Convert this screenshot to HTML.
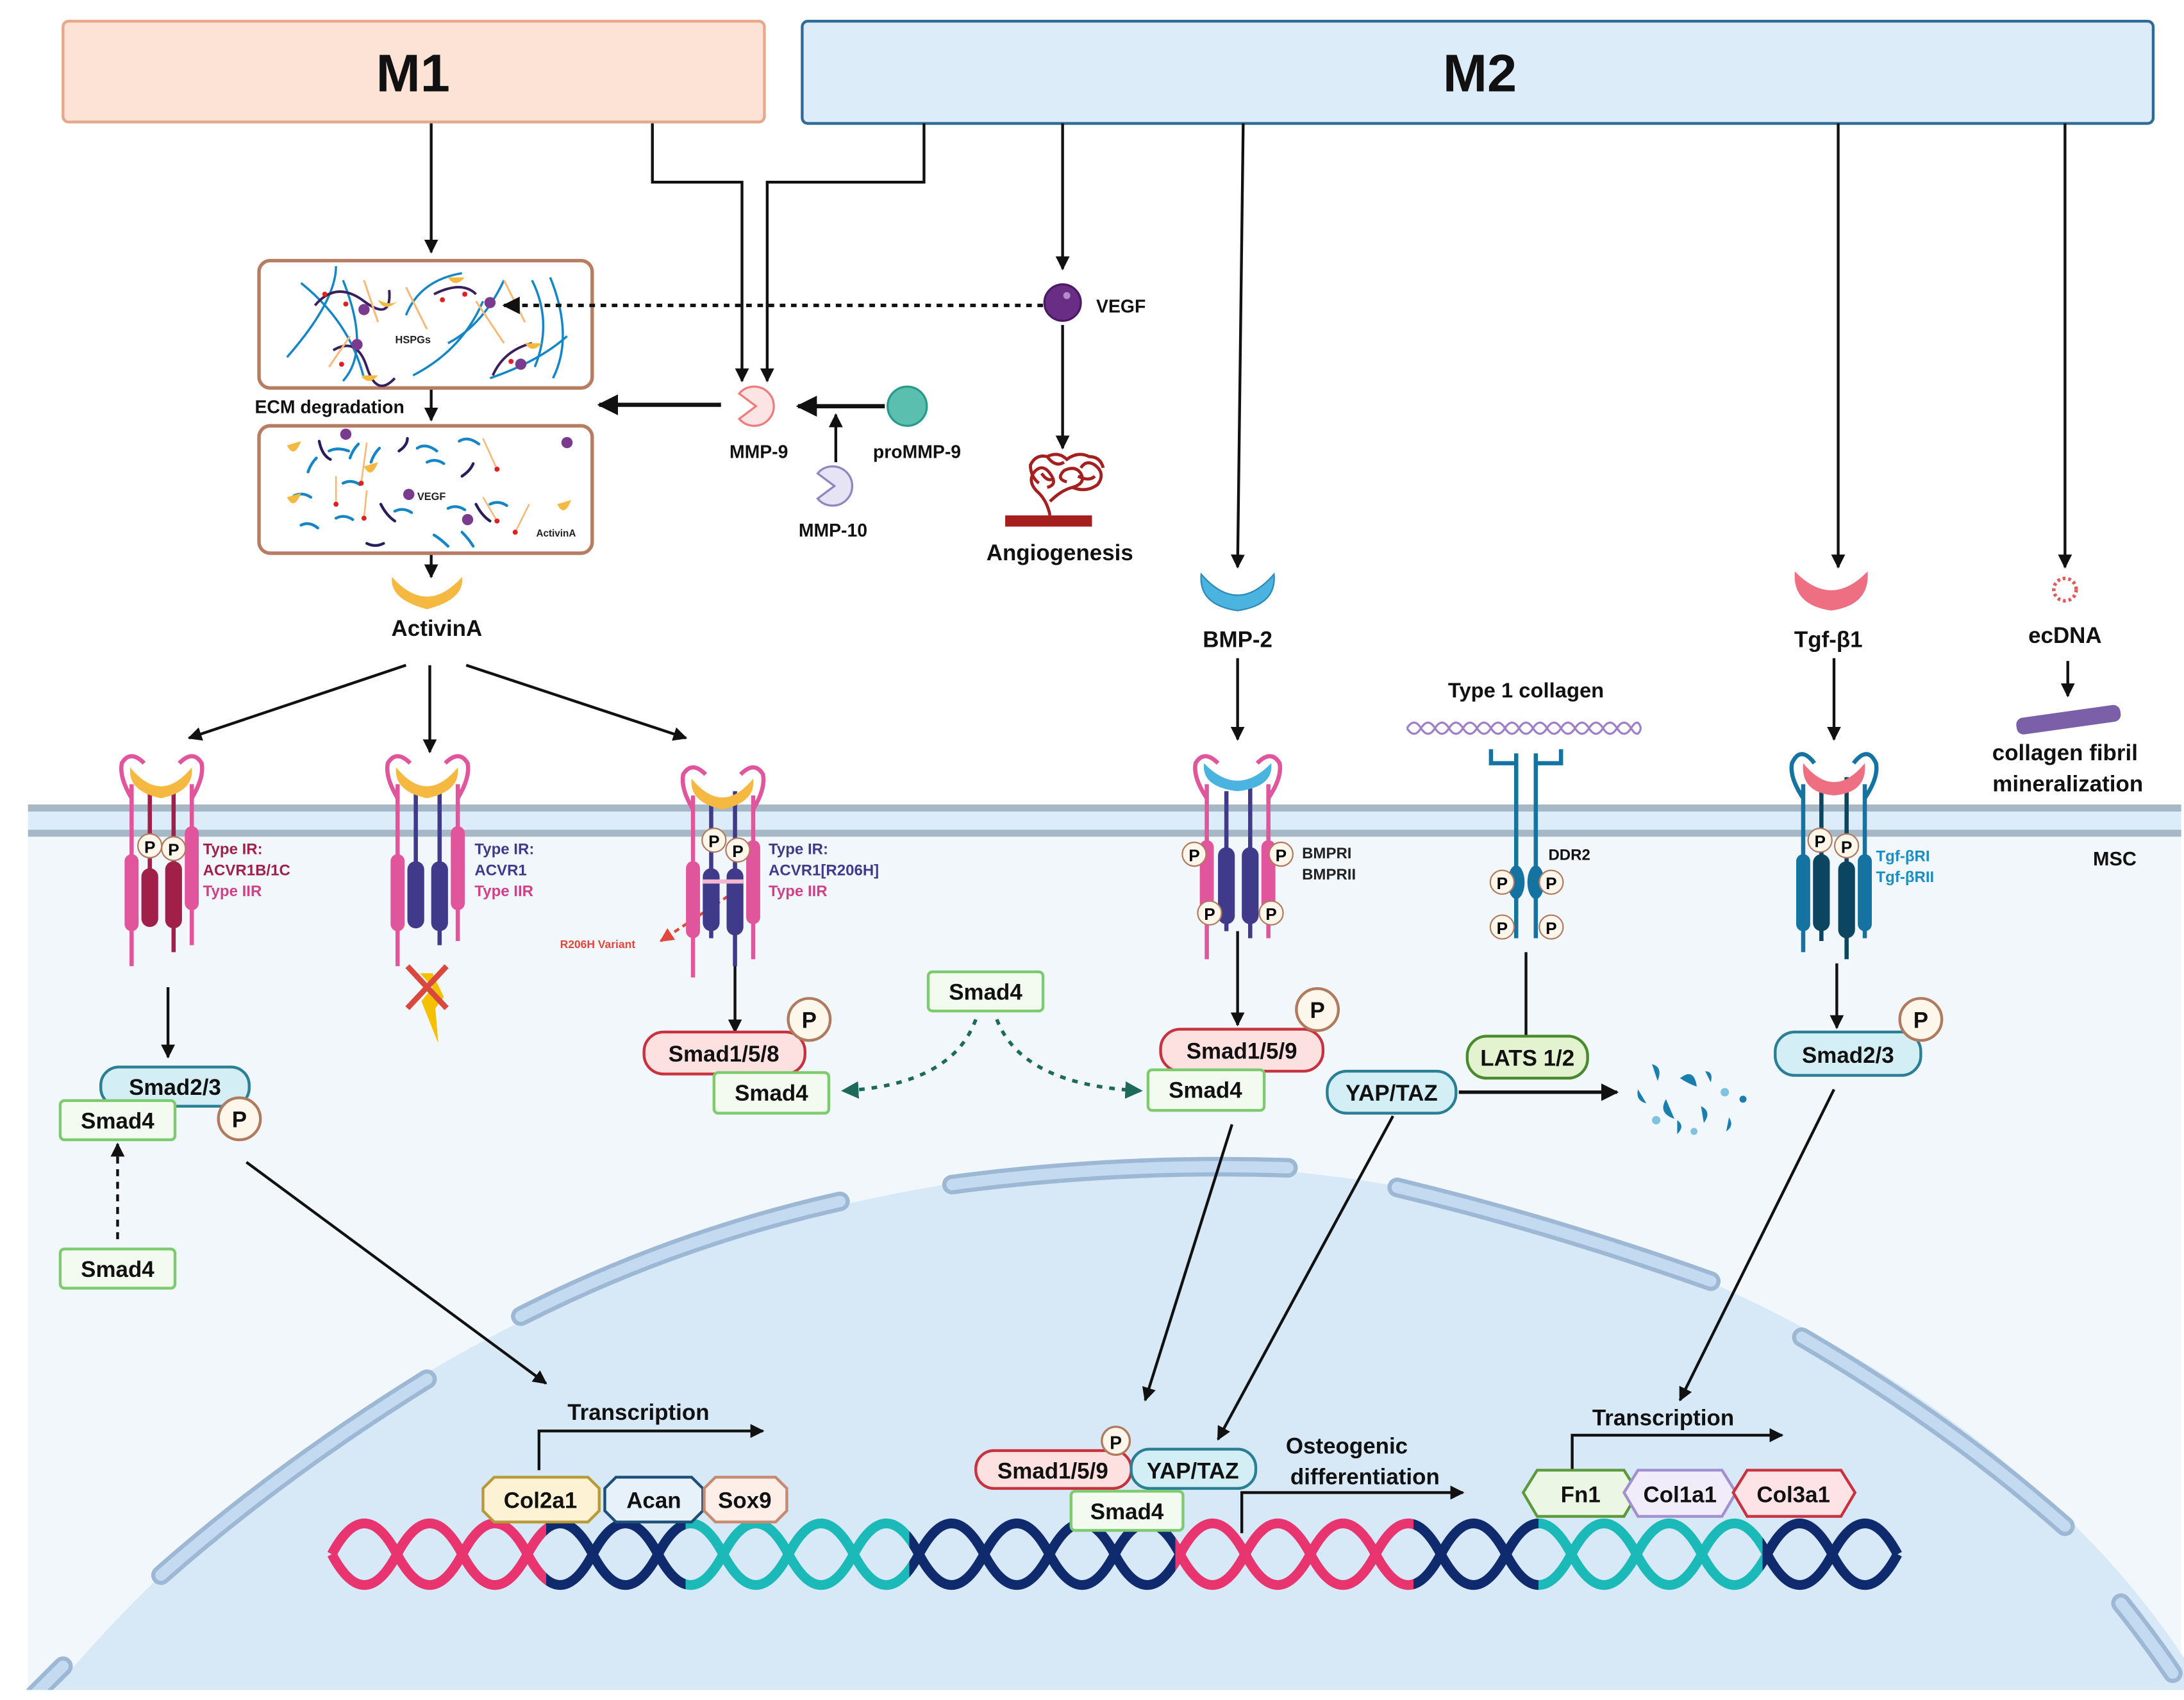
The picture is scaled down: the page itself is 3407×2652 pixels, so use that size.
<!DOCTYPE html>
<html><head><meta charset="utf-8"><style>
html,body{margin:0;padding:0;background:#fff;}
svg{display:block;}
text{font-family:"Liberation Sans",Arial,sans-serif;font-weight:bold;}
</style></head><body>
<svg width="3407" height="2652" viewBox="0 0 1560 1214" xmlns="http://www.w3.org/2000/svg">
<defs>
<marker id="ah" viewBox="0 0 10 10" refX="9" refY="5" markerWidth="5" markerHeight="5" orient="auto"><path d="M0,0L10,5L0,10z" fill="#111"/></marker>
<marker id="ahg" viewBox="0 0 10 10" refX="9" refY="5" markerWidth="5" markerHeight="5" orient="auto"><path d="M0,0L10,5L0,10z" fill="#1d6a5c"/></marker>
<marker id="ahr" viewBox="0 0 10 10" refX="9" refY="5" markerWidth="5" markerHeight="5" orient="auto"><path d="M0,0L10,5L0,10z" fill="#e0483e"/></marker>
<linearGradient id="dna" gradientUnits="userSpaceOnUse" x1="237" y1="0" x2="1355" y2="0">
<stop offset="0" stop-color="#e8356f"/><stop offset="0.137" stop-color="#e8356f"/>
<stop offset="0.137" stop-color="#102a6e"/><stop offset="0.226" stop-color="#102a6e"/>
<stop offset="0.226" stop-color="#1cb9b9"/><stop offset="0.369" stop-color="#1cb9b9"/>
<stop offset="0.369" stop-color="#102a6e"/><stop offset="0.539" stop-color="#102a6e"/>
<stop offset="0.539" stop-color="#e8356f"/><stop offset="0.691" stop-color="#e8356f"/>
<stop offset="0.691" stop-color="#102a6e"/><stop offset="0.771" stop-color="#102a6e"/>
<stop offset="0.771" stop-color="#1cb9b9"/><stop offset="0.914" stop-color="#1cb9b9"/>
<stop offset="0.914" stop-color="#102a6e"/><stop offset="1" stop-color="#102a6e"/>
</linearGradient>
</defs>

<rect x="20" y="585" width="1538" height="622" fill="#f2f7fb"/>
<rect x="20" y="577" width="1538" height="18" fill="#dcedf9"/>
<line x1="20" y1="577" x2="1558" y2="577" stroke="#a6b8c6" stroke-width="5"/>
<line x1="20" y1="595" x2="1558" y2="595" stroke="#a6b8c6" stroke-width="5"/>

<path d="M20,1230 C200,1000 500,830 850,833 C1150,836 1450,1000 1570,1200 L1570,1207 L20,1207 Z" fill="#d7e8f6"/>
<g fill="none" stroke-linecap="round">
<g stroke="#9db8d4" stroke-width="14">
<path d="M115,1125 Q200,1050 305,985"/><path d="M372,940 Q480,885 600,858"/><path d="M680,846 Q800,830 920,834"/>
<path d="M998,848 Q1110,875 1222,915"/><path d="M1287,955 Q1390,1015 1475,1090"/><path d="M1515,1145 Q1535,1170 1552,1195"/><path d="M25,1210 Q35,1200 45,1190"/></g>
<g stroke="#c4daf0" stroke-width="8">
<path d="M115,1125 Q200,1050 305,985"/><path d="M372,940 Q480,885 600,858"/><path d="M680,846 Q800,830 920,834"/>
<path d="M998,848 Q1110,875 1222,915"/><path d="M1287,955 Q1390,1015 1475,1090"/><path d="M1515,1145 Q1535,1170 1552,1195"/><path d="M25,1210 Q35,1200 45,1190"/></g>
</g>
<rect x="0" y="1207" width="1560" height="10" fill="#fff"/>

<g fill="none" stroke="url(#dna)" stroke-width="7">
<path d="M237,1110 q23.3,-44 46.6,0 t46.6,0 t46.6,0 t46.6,0 t46.6,0 t46.6,0 t46.6,0 t46.6,0 t46.6,0 t46.6,0 t46.6,0 t46.6,0 t46.6,0 t46.6,0 t46.6,0 t46.6,0 t46.6,0 t46.6,0 t46.6,0 t46.6,0 t46.6,0 t46.6,0 t46.6,0 t46.6,0"/>
<path d="M237,1110 q23.3,44 46.6,0 t46.6,0 t46.6,0 t46.6,0 t46.6,0 t46.6,0 t46.6,0 t46.6,0 t46.6,0 t46.6,0 t46.6,0 t46.6,0 t46.6,0 t46.6,0 t46.6,0 t46.6,0 t46.6,0 t46.6,0 t46.6,0 t46.6,0 t46.6,0 t46.6,0 t46.6,0 t46.6,0"/>
</g>

<rect x="45" y="15" width="501" height="72" rx="4" fill="#fde3d6" stroke="#e6a88c" stroke-width="2"/>
<text x="295" y="65" font-size="38" text-anchor="middle" fill="#111">M1</text>
<rect x="573" y="15" width="965" height="73" rx="4" fill="#dcedf9" stroke="#2f6b98" stroke-width="2"/>
<text x="1057" y="65" font-size="38" text-anchor="middle" fill="#111">M2</text>

<g stroke="#111" stroke-width="2" fill="none" marker-end="url(#ah)">
<line x1="308" y1="88" x2="308" y2="180"/>
<path d="M466,88 L466,130 L530,130 L530,272"/>
<path d="M660,88 L660,130 L548,130 L548,272"/>
<line x1="308" y1="278" x2="308" y2="300"/>
<line x1="308" y1="396" x2="308" y2="412"/>
<line x1="515" y1="289" x2="428" y2="289" stroke-width="3"/>
<line x1="632" y1="290" x2="570" y2="290" stroke-width="3"/>
<line x1="597" y1="330" x2="597" y2="296"/>
<line x1="759" y1="88" x2="759" y2="192"/>
<line x1="759" y1="232" x2="759" y2="320"/>
<line x1="888" y1="88" x2="884" y2="405"/>
<line x1="1313" y1="88" x2="1313" y2="405"/>
<line x1="1475" y1="88" x2="1475" y2="405"/>
<line x1="884" y1="470" x2="884" y2="528"/>
<line x1="1310" y1="470" x2="1310" y2="528"/>
<line x1="1477" y1="472" x2="1477" y2="497"/>
<line x1="290" y1="475" x2="135" y2="527"/>
<line x1="307" y1="475" x2="307" y2="537"/>
<line x1="333" y1="475" x2="490" y2="527"/>
<line x1="120" y1="705" x2="120" y2="755"/>
<line x1="525" y1="685" x2="525" y2="737"/>
<line x1="884" y1="665" x2="884" y2="732"/>
<line x1="1312" y1="688" x2="1312" y2="734"/>
<line x1="1042" y1="780" x2="1155" y2="780" stroke-width="2.5"/>
<line x1="176" y1="830" x2="390" y2="988"/>
<line x1="880" y1="803" x2="818" y2="1000"/>
<line x1="995" y1="797" x2="870" y2="1028"/>
<line x1="1310" y1="778" x2="1200" y2="1000"/>
<path d="M385,1050 L385,1022 L545,1022"/>
<path d="M887,1095 L887,1066 L1045,1066"/>
<path d="M1123,1055 L1123,1025 L1273,1025"/>
</g>
<line x1="84" y1="885" x2="84" y2="817" stroke="#111" stroke-width="2" stroke-dasharray="5,4" marker-end="url(#ah)"/>
<g stroke="#1d6a5c" stroke-width="2.5" fill="none" stroke-dasharray="4,5" marker-end="url(#ahg)">
<path d="M697,728 Q680,775 602,779"/><path d="M712,728 Q730,775 815,779"/></g>
<line x1="520" y1="640" x2="472" y2="672" stroke="#e0483e" stroke-width="2" stroke-dasharray="4,3" marker-end="url(#ahr)"/>
<g stroke="#111" stroke-width="2"><line x1="1090" y1="680" x2="1090" y2="760"/><line x1="1083" y1="760" x2="1097" y2="760"/></g>

<rect x="185" y="186" width="238" height="91" rx="8" fill="#fff" stroke="#b77d62" stroke-width="2.5"/>
<g fill="none" stroke="#1486c6" stroke-width="1.6">
<path d="M205,255 Q240,215 240,190"/><path d="M215,202 Q250,230 260,270"/><path d="M245,200 Q265,250 245,272"/><path d="M290,225 Q300,200 330,195"/><path d="M295,268 Q330,250 345,215"/><path d="M350,270 Q385,258 405,240"/><path d="M380,200 Q395,230 382,262"/><path d="M393,198 Q410,240 395,270"/><path d="M320,245 Q345,232 360,200"/>
</g>
<g fill="none" stroke="#3a1f5e" stroke-width="1.8"><path d="M225,218 Q240,200 260,215 T278,207"/><path d="M238,250 Q255,240 262,262 T282,270"/><path d="M310,210 Q330,200 340,210"/><path d="M352,268 Q360,250 380,245"/></g>
<g fill="none" stroke="#f7b97a" stroke-width="1.4"><path d="M260,200 L270,230"/><path d="M290,205 L305,235"/><path d="M340,215 L360,245"/><path d="M235,262 L250,240"/><path d="M360,200 L375,230"/></g>
<g fill="#f5b942"><path d="M270,214 q5,10 15,0 q-5,5 -15,0z"/><path d="M258,268 q5,8 12,0z"/><path d="M375,245 q5,8 12,0z"/><path d="M320,198 q5,8 12,0z"/></g>
<g fill="#7a3b8e"><circle cx="260" cy="221" r="4"/><circle cx="255" cy="246" r="4"/><circle cx="350" cy="216" r="4"/><circle cx="372" cy="260" r="4"/></g>
<g fill="#e02020"><circle cx="232" cy="210" r="1.8"/><circle cx="247" cy="217" r="1.8"/><circle cx="316" cy="214" r="1.8"/><circle cx="332" cy="210" r="1.8"/><circle cx="244" cy="260" r="1.8"/><circle cx="365" cy="258" r="1.8"/></g>
<text x="295" y="245" font-size="7.5" text-anchor="middle" fill="#222">HSPGs</text>
<line x1="745" y1="218" x2="360" y2="218" stroke="#111" stroke-width="2.5" stroke-dasharray="4,4" marker-end="url(#ah)"/>

<text x="182" y="295" font-size="13" fill="#111">ECM degradation</text>
<rect x="185" y="304" width="238" height="91" rx="8" fill="#fff" stroke="#b77d62" stroke-width="2.5"/>
<g fill="none" stroke="#1486c6" stroke-width="2" stroke-linecap="round">
<path d="M235,322 q6,-3 14,0"/><path d="M220,337 q2,-6 6,-10"/><path d="M250,327 q2,-6 6,-10"/><path d="M298,320 q6,-4 14,2"/><path d="M305,330 q6,-3 12,1"/><path d="M328,315 q6,-4 14,2"/><path d="M245,345 q6,-3 12,1"/><path d="M210,354 q6,-3 12,1"/><path d="M320,363 q6,-3 12,1"/><path d="M350,360 q6,-3 12,1"/><path d="M215,375 q6,-3 12,2"/><path d="M240,370 q6,-3 12,1"/><path d="M282,365 q6,-3 12,1"/><path d="M310,382 q5,3 10,8"/><path d="M330,380 q5,5 8,10"/><path d="M265,330 q2,-6 6,-10"/></g>
<g fill="none" stroke="#2b1d5a" stroke-width="2" stroke-linecap="round"><path d="M228,315 q2,10 8,13"/><path d="M285,322 q6,-4 6,-9"/><path d="M272,360 q4,8 10,12"/><path d="M330,340 q6,-4 8,-9"/><path d="M340,360 q4,8 10,12"/><path d="M262,388 q6,3 12,0"/></g>
<g fill="#f5b942"><path d="M205,318 q5,10 10,-3z"/><path d="M260,333 q5,10 10,-3z"/><path d="M205,355 q5,10 10,-3z"/><path d="M398,360 q5,10 10,-3z"/></g>
<g stroke="#f7b97a" stroke-width="1.2"><line x1="262" y1="316" x2="258" y2="345"/><line x1="345" y1="313" x2="355" y2="335"/><line x1="240" y1="340" x2="240" y2="360"/><line x1="262" y1="350" x2="260" y2="370"/><line x1="345" y1="355" x2="355" y2="372"/><line x1="378" y1="360" x2="368" y2="380"/></g>
<g fill="#e02020"><circle cx="258" cy="345" r="1.8"/><circle cx="355" cy="335" r="1.8"/><circle cx="240" cy="360" r="1.8"/><circle cx="260" cy="370" r="1.8"/><circle cx="355" cy="372" r="1.8"/><circle cx="368" cy="380" r="1.8"/></g>
<g fill="#7a3b8e"><circle cx="247" cy="310" r="4"/><circle cx="405" cy="316" r="4"/><circle cx="292" cy="353" r="4"/><circle cx="334" cy="371" r="4"/></g>
<text x="298" y="357" font-size="7.5" fill="#222">VEGF</text>
<text x="383" y="383" font-size="7" fill="#222">ActivinA</text>

<path d="M280,412 Q305,440 330,412 Q332,428 305,435 Q278,428 280,412z" fill="#f5b942"/>
<text x="312" y="454" font-size="16" text-anchor="middle" fill="#111">ActivinA</text>

<path d="M540,290 L552,281 A14,14 0 1 0 552,299 Z" fill="#fde4e4" stroke="#ef7c7c" stroke-width="1.5" transform="rotate(180 540 290)"/>
<text x="542" y="327" font-size="13" text-anchor="middle" fill="#111">MMP-9</text>
<circle cx="648" cy="290" r="14" fill="#5bbfb0" stroke="#2a9a88" stroke-width="1.5"/>
<text x="655" y="327" font-size="13" text-anchor="middle" fill="#111">proMMP-9</text>
<path d="M596,347 L608,338 A14,14 0 1 0 608,356 Z" fill="#e6e4f4" stroke="#8f86c2" stroke-width="1.5" transform="rotate(180 596 347)"/>
<text x="595" y="383" font-size="13" text-anchor="middle" fill="#111">MMP-10</text>

<circle cx="759" cy="216" r="13" fill="#6a2d86" stroke="#4b1a63" stroke-width="1.5"/>
<circle cx="762" cy="211" r="2.5" fill="#b58ac9"/>
<text x="783" y="223" font-size="13" fill="#111">VEGF</text>
<rect x="718" y="368" width="62" height="8" fill="#a51f1f"/>
<g fill="none" stroke="#a51f1f" stroke-width="2.2">
<path d="M750,368 Q748,358 742,352 Q734,345 738,338 Q744,330 750,338 Q756,346 748,348"/>
<path d="M750,358 Q758,350 766,348 Q776,345 772,338 Q768,332 760,336 Q754,342 762,344"/>
<path d="M766,348 Q776,352 784,346 Q790,338 782,332 Q776,328 772,334"/>
<path d="M742,345 Q736,340 736,332 Q740,324 748,326 Q756,322 762,328 Q770,322 778,326 Q786,326 788,334"/>
<path d="M748,326 Q754,334 760,330 M770,340 Q778,344 782,340 M744,338 Q748,344 752,342"/>
</g>
<text x="757" y="400" font-size="16" text-anchor="middle" fill="#111">Angiogenesis</text>

<path d="M858,410 Q884,440 910,410 Q912,432 884,436 Q856,432 858,410z" fill="#4bb3e0" stroke="#2a8ab8" stroke-width="1"/>
<text x="884" y="462" font-size="16" text-anchor="middle" fill="#111">BMP-2</text>
<path d="M1282,408 Q1308,435 1334,408 Q1336,432 1308,436 Q1280,432 1282,408z" fill="#ef6f82"/>
<text x="1306" y="462" font-size="16" text-anchor="middle" fill="#111">Tgf-β1</text>
<circle cx="1475" cy="421" r="8" fill="none" stroke="#e05a5a" stroke-width="2.5" stroke-dasharray="2,2"/>
<text x="1475" y="459" font-size="16" text-anchor="middle" fill="#111">ecDNA</text>
<rect x="1440" y="508" width="75" height="12" rx="5" fill="#7b5fa8" transform="rotate(-8 1477 514)"/>
<text x="1475" y="543" font-size="16" text-anchor="middle" fill="#111">collagen fibril</text>
<text x="1477" y="565" font-size="16" text-anchor="middle" fill="#111">mineralization</text>

<text x="1090" y="498" font-size="15" text-anchor="middle" fill="#111">Type 1 collagen</text>
<g fill="none" stroke="#9d80c8" stroke-width="1.5">
<path d="M1005,520 q5,-8 10,0 t10,0 t10,0 t10,0 t10,0 t10,0 t10,0 t10,0 t10,0 t10,0 t10,0 t10,0 t10,0 t10,0 t10,0 t10,0 t7,0"/>
<path d="M1005,520 q5,8 10,0 t10,0 t10,0 t10,0 t10,0 t10,0 t10,0 t10,0 t10,0 t10,0 t10,0 t10,0 t10,0 t10,0 t10,0 t10,0 t7,0"/></g>
<g fill="none" stroke="#1473a0" stroke-width="3">
<line x1="1083" y1="545" x2="1083" y2="670"/><line x1="1097" y1="545" x2="1097" y2="670"/>
<path d="M1065,535 L1065,545 L1083,545 L1083,538"/><path d="M1115,535 L1115,545 L1097,545 L1097,538"/></g>
<ellipse cx="1083" cy="630" rx="6" ry="12" fill="#1473a0"/><ellipse cx="1097" cy="630" rx="6" ry="12" fill="#1473a0"/>
<text x="1106" y="614" font-size="11" fill="#111">DDR2</text>

<g transform="translate(115,0)">
<g stroke="#e0559c" stroke-width="3" fill="none"><line x1="-21" y1="560" x2="-21" y2="690"/><line x1="22" y1="560" x2="22" y2="675"/>
<path d="M-21,570 Q-30,555 -28,545 Q-22,535 -12,545"/><path d="M22,570 Q31,555 29,545 Q23,535 13,545"/></g>
<rect x="-26" y="610" width="10" height="55" rx="5" fill="#e0559c"/><rect x="17" y="590" width="10" height="60" rx="5" fill="#e0559c"/>
<g stroke="#a0204a" stroke-width="3"><line x1="-8" y1="565" x2="-8" y2="660"/><line x1="9" y1="560" x2="9" y2="680"/></g>
<rect x="-14" y="620" width="12" height="42" rx="6" fill="#a0204a"/><rect x="3" y="615" width="12" height="48" rx="6" fill="#a0204a"/>
<path d="M-22,548 Q0,575 22,548 Q24,565 0,570 Q-24,565 -22,548z" fill="#f5b942"/>
<circle cx="-8" cy="604" r="8.5" fill="#fdf6ea" stroke="#b07a5f"/><text x="-8" y="609" font-size="12" text-anchor="middle">P</text>
<circle cx="9" cy="606" r="8.5" fill="#fdf6ea" stroke="#b07a5f"/><text x="9" y="611" font-size="12" text-anchor="middle">P</text>
</g>
<g fill="#a0204a" font-size="11"><text x="145" y="610">Type IR:</text><text x="145" y="625">ACVR1B/1C</text></g>
<text x="145" y="640" font-size="11" fill="#d0418a">Type IIR</text>

<g transform="translate(305,0)">
<g stroke="#e0559c" stroke-width="3" fill="none"><line x1="-21" y1="560" x2="-21" y2="690"/><line x1="22" y1="560" x2="22" y2="672"/>
<path d="M-21,570 Q-30,555 -28,545 Q-22,535 -12,545"/><path d="M22,570 Q31,555 29,545 Q23,535 13,545"/></g>
<rect x="-26" y="610" width="10" height="55" rx="5" fill="#e0559c"/><rect x="17" y="590" width="10" height="60" rx="5" fill="#e0559c"/>
<g stroke="#3f3b8a" stroke-width="3"><line x1="-8" y1="565" x2="-8" y2="660"/><line x1="9" y1="560" x2="9" y2="675"/></g>
<rect x="-14" y="615" width="12" height="48" rx="6" fill="#3f3b8a"/><rect x="3" y="615" width="12" height="50" rx="6" fill="#3f3b8a"/>
<path d="M-22,548 Q0,575 22,548 Q24,565 0,570 Q-24,565 -22,548z" fill="#f5b942"/>
<path d="M-5,695 L4,705 L-4,715 L8,745 L6,720 L12,712 L4,695z" fill="#f5c000"/>
<g stroke="#d9483e" stroke-width="4"><line x1="-14" y1="690" x2="14" y2="720"/><line x1="14" y1="690" x2="-14" y2="720"/></g>
</g>
<g fill="#3f3b8a" font-size="11"><text x="339" y="610">Type IR:</text><text x="339" y="625">ACVR1</text></g>
<text x="339" y="640" font-size="11" fill="#d0418a">Type IIR</text>

<g transform="translate(516,0)">
<g stroke="#e0559c" stroke-width="3" fill="none"><line x1="-21" y1="568" x2="-21" y2="698"/><line x1="22" y1="568" x2="22" y2="685"/>
<path d="M-21,578 Q-30,563 -28,553 Q-22,543 -12,553"/><path d="M22,578 Q31,563 29,553 Q23,543 13,553"/></g>
<rect x="-26" y="615" width="10" height="55" rx="5" fill="#e0559c"/><rect x="17" y="600" width="10" height="60" rx="5" fill="#e0559c"/>
<g stroke="#3f3b8a" stroke-width="3"><line x1="-8" y1="570" x2="-8" y2="670"/><line x1="9" y1="565" x2="9" y2="690"/></g>
<rect x="-14" y="620" width="12" height="45" rx="6" fill="#3f3b8a"/><rect x="3" y="620" width="12" height="48" rx="6" fill="#3f3b8a"/>
<rect x="-14" y="628" width="29" height="3" fill="#f5b6d0"/>
<path d="M-22,556 Q0,583 22,556 Q24,573 0,578 Q-24,573 -22,556z" fill="#f5b942"/>
<circle cx="-6" cy="600" r="8.5" fill="#fdf6ea" stroke="#b07a5f"/><text x="-6" y="605" font-size="12" text-anchor="middle">P</text>
<circle cx="11" cy="607" r="8.5" fill="#fdf6ea" stroke="#b07a5f"/><text x="11" y="612" font-size="12" text-anchor="middle">P</text>
</g>
<g fill="#3f3b8a" font-size="11"><text x="549" y="610">Type IR:</text><text x="549" y="625">ACVR1[R206H]</text></g>
<text x="549" y="640" font-size="11" fill="#d0418a">Type IIR</text>
<text x="400" y="677" font-size="8" fill="#e0483e">R206H Variant</text>

<g transform="translate(884,0)">
<g stroke="#e0559c" stroke-width="3" fill="none"><line x1="-22" y1="560" x2="-22" y2="685"/><line x1="22" y1="560" x2="22" y2="670"/>
<path d="M-22,570 Q-32,555 -30,545 Q-24,535 -14,545"/><path d="M22,570 Q32,555 30,545 Q24,535 14,545"/></g>
<rect x="-27" y="600" width="10" height="55" rx="5" fill="#e0559c"/><rect x="17" y="600" width="10" height="55" rx="5" fill="#e0559c"/>
<g stroke="#3f3b8a" stroke-width="3"><line x1="-8" y1="565" x2="-8" y2="665"/><line x1="9" y1="560" x2="9" y2="670"/></g>
<rect x="-14" y="605" width="12" height="55" rx="6" fill="#3f3b8a"/><rect x="3" y="605" width="12" height="55" rx="6" fill="#3f3b8a"/>
<path d="M-24,545 Q0,570 24,545 Q26,562 0,565 Q-26,562 -24,545z" fill="#4bb3e0"/>
<circle cx="-31" cy="610" r="8.5" fill="#fdf6ea" stroke="#b07a5f"/><text x="-31" y="615" font-size="12" text-anchor="middle">P</text>
<circle cx="31" cy="610" r="8.5" fill="#fdf6ea" stroke="#b07a5f"/><text x="31" y="615" font-size="12" text-anchor="middle">P</text>
<circle cx="-20" cy="652" r="8.5" fill="#fdf6ea" stroke="#b07a5f"/><text x="-20" y="657" font-size="12" text-anchor="middle">P</text>
<circle cx="24" cy="652" r="8.5" fill="#fdf6ea" stroke="#b07a5f"/><text x="24" y="657" font-size="12" text-anchor="middle">P</text>
</g>
<g fill="#222" font-size="11"><text x="930" y="613">BMPRI</text><text x="930" y="628">BMPRII</text></g>

<g font-size="12" text-anchor="middle">
<circle cx="1073" cy="630" r="8.5" fill="#fdf6ea" stroke="#b07a5f"/><text x="1073" y="635">P</text>
<circle cx="1108" cy="630" r="8.5" fill="#fdf6ea" stroke="#b07a5f"/><text x="1108" y="635">P</text>
<circle cx="1073" cy="662" r="8.5" fill="#fdf6ea" stroke="#b07a5f"/><text x="1073" y="667">P</text>
<circle cx="1108" cy="662" r="8.5" fill="#fdf6ea" stroke="#b07a5f"/><text x="1108" y="667">P</text>
</g>

<g transform="translate(1310,0)">
<g stroke="#1473a0" stroke-width="3" fill="none"><line x1="-22" y1="560" x2="-22" y2="680"/><line x1="22" y1="560" x2="22" y2="670"/>
<path d="M-22,570 Q-32,555 -30,545 Q-24,532 -14,545"/><path d="M22,570 Q32,555 30,545 Q24,532 14,545"/></g>
<rect x="-27" y="610" width="10" height="55" rx="5" fill="#1473a0"/><rect x="17" y="610" width="10" height="55" rx="5" fill="#1473a0"/>
<g stroke="#0b4560" stroke-width="3"><line x1="-9" y1="560" x2="-9" y2="672"/><line x1="9" y1="555" x2="9" y2="685"/></g>
<rect x="-15" y="610" width="12" height="55" rx="6" fill="#0b4560"/><rect x="3" y="615" width="12" height="55" rx="6" fill="#0b4560"/>
<path d="M-22,545 Q0,572 22,545 Q24,566 0,568 Q-24,566 -22,545z" fill="#ef6f82"/>
<circle cx="-10" cy="600" r="8.5" fill="#fdf6ea" stroke="#b07a5f"/><text x="-10" y="605" font-size="12" text-anchor="middle">P</text>
<circle cx="9" cy="604" r="8.5" fill="#fdf6ea" stroke="#b07a5f"/><text x="9" y="609" font-size="12" text-anchor="middle">P</text>
</g>
<g fill="#1a8ec2" font-size="11"><text x="1340" y="615">Tgf-βRI</text><text x="1340" y="630">Tgf-βRII</text></g>
<text x="1495" y="618" font-size="14" fill="#111">MSC</text>

<g font-size="16" text-anchor="middle" fill="#111">
<rect x="72" y="762" width="106" height="28" rx="13" fill="#d4eef5" stroke="#2a7f94" stroke-width="2"/><text x="125" y="782">Smad2/3</text>
<rect x="43" y="786" width="82" height="28" rx="3" fill="#f3fbf0" stroke="#7ccb6f" stroke-width="2"/><text x="84" y="806">Smad4</text>
<circle cx="171" cy="799" r="15" fill="#fdf6ea" stroke="#b07a5f" stroke-width="2"/><text x="171" y="805">P</text>
<rect x="43" y="892" width="82" height="28" rx="3" fill="#f3fbf0" stroke="#7ccb6f" stroke-width="2"/><text x="84" y="912">Smad4</text>

<rect x="460" y="737" width="115" height="30" rx="14" fill="#fde0e0" stroke="#c8313e" stroke-width="2"/><text x="517" y="758">Smad1/5/8</text>
<circle cx="578" cy="728" r="15" fill="#fdf6ea" stroke="#b07a5f" stroke-width="2"/><text x="578" y="734">P</text>
<rect x="510" y="766" width="82" height="29" rx="3" fill="#f3fbf0" stroke="#7ccb6f" stroke-width="2"/><text x="551" y="786">Smad4</text>
<rect x="663" y="694" width="82" height="28" rx="3" fill="#f3fbf0" stroke="#7ccb6f" stroke-width="2"/><text x="704" y="714">Smad4</text>

<rect x="829" y="735" width="116" height="30" rx="14" fill="#fde0e0" stroke="#c8313e" stroke-width="2"/><text x="887" y="756">Smad1/5/9</text>
<circle cx="941" cy="721" r="15" fill="#fdf6ea" stroke="#b07a5f" stroke-width="2"/><text x="941" y="727">P</text>
<rect x="820" y="764" width="83" height="29" rx="3" fill="#f3fbf0" stroke="#7ccb6f" stroke-width="2"/><text x="861" y="784">Smad4</text>

<rect x="948" y="765" width="92" height="30" rx="14" fill="#d4eef5" stroke="#2a7f94" stroke-width="2"/><text x="994" y="786">YAP/TAZ</text>
<rect x="1048" y="740" width="86" height="30" rx="14" fill="#e3f2cf" stroke="#4a8a2f" stroke-width="2"/><text x="1091" y="761">LATS 1/2</text>
<rect x="1268" y="737" width="104" height="31" rx="14" fill="#d4eef5" stroke="#2a7f94" stroke-width="2"/><text x="1320" y="759">Smad2/3</text>
<circle cx="1372" cy="728" r="15" fill="#fdf6ea" stroke="#b07a5f" stroke-width="2"/><text x="1372" y="734">P</text>

<rect x="697" y="1036" width="111" height="27" rx="13" fill="#fde0e0" stroke="#c8313e" stroke-width="2"/><text x="752" y="1056">Smad1/5/9</text>
<rect x="808" y="1035" width="89" height="28" rx="13" fill="#d4eef5" stroke="#2a7f94" stroke-width="2"/><text x="852" y="1056">YAP/TAZ</text>
<circle cx="797" cy="1029" r="10" fill="#fdf6ea" stroke="#b07a5f" stroke-width="1.5"/><text x="797" y="1035" font-size="13">P</text>
<rect x="765" y="1065" width="80" height="28" rx="3" fill="#f3fbf0" stroke="#7ccb6f" stroke-width="2"/><text x="805" y="1085">Smad4</text>
</g>
<g font-size="16" fill="#111">
<text x="456" y="1014" text-anchor="middle">Transcription</text>
<text x="962" y="1038" text-anchor="middle">Osteogenic</text>
<text x="975" y="1060" text-anchor="middle">differentiation</text>
<text x="1188" y="1018" text-anchor="middle">Transcription</text>
</g>
<g font-size="16" text-anchor="middle" fill="#111" stroke-width="2">
<polygon points="353,1055 420,1055 428,1063 428,1079 420,1087 353,1087 345,1079 345,1063" fill="#fdf3d4" stroke="#b89a3a"/><text x="386" y="1077">Col2a1</text>
<polygon points="440,1055 494,1055 502,1063 502,1079 494,1087 440,1087 432,1079 432,1063" fill="#e6f1fa" stroke="#1d4f7a"/><text x="467" y="1077">Acan</text>
<polygon points="511,1055 554,1055 562,1063 562,1079 554,1087 511,1087 503,1079 503,1063" fill="#fdeee8" stroke="#c78a70"/><text x="532" y="1077">Sox9</text>
<polygon points="1098,1050 1160,1050 1170,1066 1160,1083 1098,1083 1088,1066" fill="#ebf7e4" stroke="#5a9a3a"/><text x="1129" y="1073">Fn1</text>
<polygon points="1170,1050 1230,1050 1240,1066 1230,1083 1170,1083 1160,1066" fill="#f0ecf9" stroke="#a090cf"/><text x="1200" y="1073">Col1a1</text>
<polygon points="1248,1050 1315,1050 1325,1066 1315,1083 1248,1083 1238,1066" fill="#fde3e6" stroke="#c8313e"/><text x="1281" y="1073">Col3a1</text>
</g>

<g fill="#1a7fae">
<path d="M1180,760 q8,2 4,12z"/><path d="M1200,770 q10,-8 12,6 q-6,-2 -12,-6z"/><path d="M1190,785 q-6,10 6,14z"/><path d="M1170,778 q-2,8 6,10z"/>
<path d="M1215,790 q8,4 2,12z"/><path d="M1235,798 q4,6 -2,10z"/><path d="M1198,800 q6,4 0,10z"/><path d="M1218,765 q6,0 4,8z"/>
<circle cx="1232" cy="780" r="3" fill="#7ec3e0"/><circle cx="1183" cy="800" r="3" fill="#7ec3e0"/><circle cx="1245" cy="785" r="2.5"/><circle cx="1210" cy="808" r="2.5" fill="#7ec3e0"/>
</g>
</svg>
</body></html>
